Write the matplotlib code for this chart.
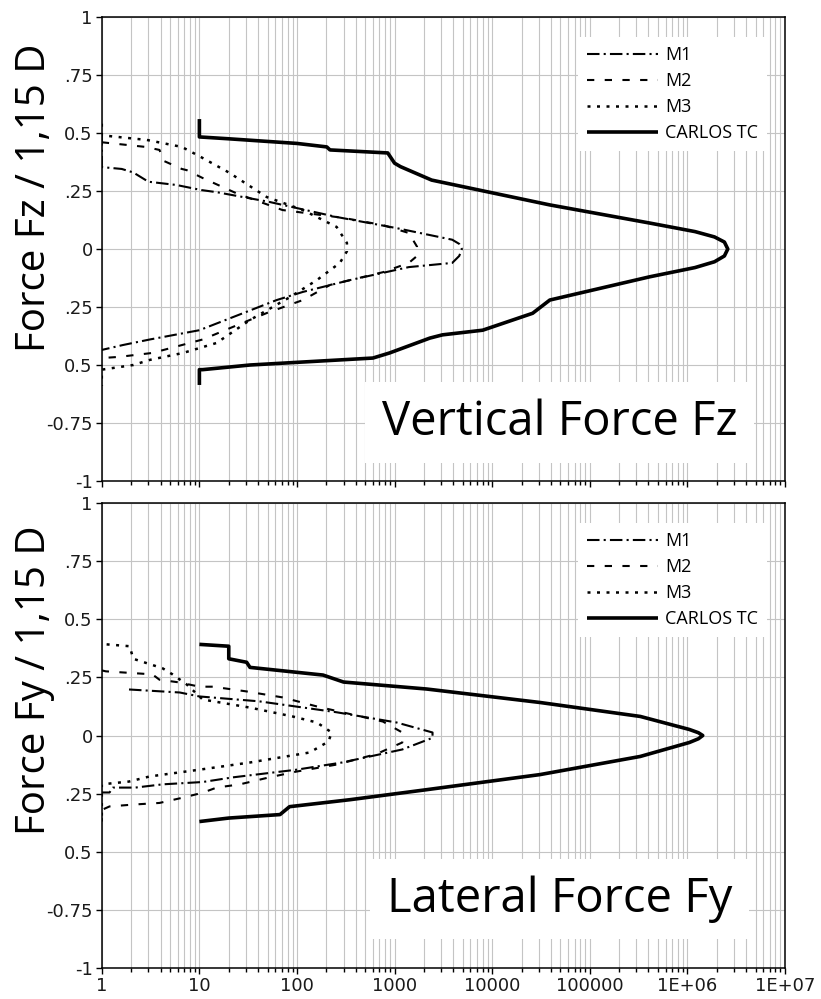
import numpy as np
import matplotlib.pyplot as plt
from matplotlib.ticker import FixedLocator, FixedFormatter, LogLocator, NullFormatter

# ---- vertical force Fz (counts vs force / 1,15 D)
fz_m1_x = [1, 1, 1.6, 2.1, 3.0, 5.8, 10.5, 15, 52, 255, 1050, 3900, 4600, 4900, 4600, 3900, 1400, 350, 115, 62, 10, 3.1, 1.64, 1]
fz_m1_y = [0.50, 0.353, 0.345, 0.33, 0.29, 0.276, 0.254, 0.245, 0.203, 0.138, 0.09, 0.04, 0.022, 0.0,
           -0.03, -0.06, -0.078, -0.134, -0.185, -0.22, -0.35, -0.39, -0.414, -0.435]

fz_m2_x = [1, 2.8, 3.9, 4.3, 6.6, 7.4, 10.8, 24, 71, 300, 760, 1400, 1700, 1700, 1400, 760, 218, 115,
           49, 22, 10.8, 3.3, 1.5, 1]
fz_m2_y = [0.46, 0.44, 0.427, 0.38, 0.345, 0.34, 0.306, 0.24, 0.168, 0.134, 0.103, 0.069, 0.01, -0.03,
           -0.06, -0.10, -0.155, -0.22, -0.276, -0.336, -0.39, -0.448, -0.465, -0.47]

fz_m3_x = [1, 1, 2.9, 6.6, 10, 20, 49, 115, 255, 325, 325, 275, 160, 85, 33, 15, 6.8, 3.1, 2.1, 1, 1]
fz_m3_y = [0.54, 0.49, 0.47, 0.44, 0.40, 0.33, 0.224, 0.168, 0.095, 0.026, -0.01, -0.06, -0.134,
           -0.207, -0.306, -0.405, -0.448, -0.478, -0.50, -0.52, -0.59]

fz_tc_x = [10, 10, 20, 100, 202, 218, 852, 1000, 1150, 2400, 39000, 4.1e5, 1.2e6, 1.9e6, 2.4e6, 2.6e6,
           2.4e6, 1.9e6, 1.2e6, 4.1e5, 39000, 26000, 8000, 3100, 2300, 890, 600, 33, 10.8, 10, 10]
fz_tc_y = [0.56, 0.483, 0.475, 0.455, 0.44, 0.427, 0.414, 0.37, 0.355, 0.297, 0.19, 0.112, 0.075, 0.052,
           0.03, 0.0, -0.03, -0.055, -0.08, -0.12, -0.22, -0.277, -0.35, -0.37, -0.384, -0.448, -0.47,
           -0.50, -0.52, -0.52, -0.586]

# ---- lateral force Fy
fy_m1_x = [1.9, 6.3, 10, 41, 255, 1050, 2450, 2450, 1200, 290, 99, 22, 10.8, 4.2, 2.2, 1.3, 1.2, 1]
fy_m1_y = [0.198, 0.185, 0.168, 0.147, 0.1, 0.056, 0.013, -0.01, -0.06, -0.116, -0.147, -0.18,
           -0.20, -0.21, -0.224, -0.224, -0.245, -0.245]

fy_m2_x = [1, 1.1, 3.3, 3.9, 6.3, 10, 13.7, 30, 71, 160, 760, 1200, 1200, 650, 255, 99, 52, 26, 15,
           10.8, 6.8, 3.9, 2.1, 1.2, 1, 1]
fy_m2_y = [0.28, 0.276, 0.263, 0.24, 0.228, 0.21, 0.21, 0.19, 0.164, 0.125, 0.06, 0.013, -0.03, -0.08,
           -0.125, -0.155, -0.18, -0.21, -0.224, -0.246, -0.267, -0.29, -0.297, -0.305, -0.32, -0.37]

fy_m3_x = [1.12, 1.93, 2.1, 4.2, 5.3, 7.4, 10.8, 33, 90, 160, 227, 210, 135, 33, 10, 3.1, 1.9, 1, 1]
fy_m3_y = [0.392, 0.384, 0.33, 0.289, 0.263, 0.22, 0.155, 0.12, 0.082, 0.056, 0.013, -0.026, -0.073,
           -0.116, -0.147, -0.176, -0.198, -0.21, -0.345]

fy_tc_x = [10, 20, 20, 30.5, 33, 185, 300, 2130, 31000, 3.3e5, 1.05e6, 1.3e6, 1.44e6, 1.3e6, 1.05e6,
           3.3e5, 31000, 2130, 350, 84, 67, 20, 10]
fy_tc_y = [0.392, 0.384, 0.33, 0.315, 0.293, 0.26, 0.23, 0.2, 0.142, 0.082, 0.026, 0.012, 0.0, -0.014,
           -0.03, -0.09, -0.168, -0.233, -0.276, -0.306, -0.34, -0.355, -0.37]

series_names = ['M1', 'M2', 'M3', 'CARLOS TC']
ytick_vals = [-1, -0.75, -0.5, -0.25, 0, 0.25, 0.5, 0.75, 1]
ytick_labels = ['-1', '-0.75', '0.5', '.25', '0', '.25', '0.5', '.75', '1']
xtick_vals = [1, 10, 100, 1000, 10000, 100000, 1e6, 1e7]
xtick_labels = ['1', '10', '100', '1000', '10000', '100000', '1E+06', '1E+07']

FONT = 'Open Sans'
TICKFONT = ['Liberation Sans Narrow', 'DejaVu Sans']
styles = [dict(lw=1.5, dashes=(6, 2, 1, 2)),
          dict(lw=1.5, dashes=(3.5, 5)),
          dict(lw=1.8, dashes=(1.2, 2.6)),
          dict(lw=2.6, solid_capstyle='butt', solid_joinstyle='round')]

fig = plt.figure(figsize=(8.21, 9.99), dpi=100)
ax1 = fig.add_axes([0.124, 0.5185, 0.832, 0.4645])
ax2 = fig.add_axes([0.124, 0.031, 0.832, 0.4655])

panels = [
    (ax1, [(fz_m1_x, fz_m1_y), (fz_m2_x, fz_m2_y), (fz_m3_x, fz_m3_y), (fz_tc_x, fz_tc_y)],
     'Vertical Force Fz', 'Force Fz / 1,15 D', 0.099, 0.802),
    (ax2, [(fy_m1_x, fy_m1_y), (fy_m2_x, fy_m2_y), (fy_m3_x, fy_m3_y), (fy_tc_x, fy_tc_y)],
     'Lateral Force Fy', 'Force Fy / 1,15 D', 0.121, 0.319),
]

for ax, data, title, ylab, ty, ly in panels:
    handles = []
    for (x, y), st, name in zip(data, styles, series_names):
        h, = ax.plot(x, y, color='black', label=name, **st)
        handles.append(h)
    ax.set_xscale('log')
    ax.set_xlim(1, 1e7)
    ax.set_ylim(-1, 1)
    ax.xaxis.set_major_locator(FixedLocator(xtick_vals))
    ax.xaxis.set_minor_locator(LogLocator(base=10, subs=np.arange(2, 10), numticks=20))
    ax.xaxis.set_minor_formatter(NullFormatter())
    ax.yaxis.set_major_locator(FixedLocator(ytick_vals))
    ax.yaxis.set_major_formatter(FixedFormatter(ytick_labels))
    if ax is ax2:
        ax.xaxis.set_major_formatter(FixedFormatter(xtick_labels))
    else:
        ax.xaxis.set_major_formatter(NullFormatter())
    ax.grid(True, which='both', axis='x', color='#c4c4c4', lw=0.8)
    ax.grid(True, which='major', axis='y', color='#c4c4c4', lw=0.8)
    ax.set_axisbelow(True)
    ax.tick_params(axis='both', which='major', direction='out', length=4.5, width=1, pad=2,
                   labelsize=13, colors='black', labelcolor='#1a1a1a')
    ax.tick_params(axis='x', which='minor', direction='out', length=3, width=1)
    for lab in ax.get_xticklabels() + ax.get_yticklabels():
        lab.set_family(TICKFONT)
    for sp in ax.spines.values():
        sp.set_linewidth(1.1)

    leg = ax.legend(handles, series_names, loc='upper right', bbox_to_anchor=(0.974, 0.957),
                    borderaxespad=0, frameon=True, fancybox=False, edgecolor='none',
                    facecolor='white', framealpha=1, handlelength=3.9, handletextpad=0.4,
                    labelspacing=0.45, borderpad=0.5, prop={'family': FONT, 'size': 13})

    ax.text(0.67, ty, title, transform=ax.transAxes, ha='center', va='baseline',
            fontsize=34, family=FONT, color='black',
            bbox=dict(boxstyle='square,pad=0.35', fc='white', ec='none'))

    fig.text(0.0426, ly, ylab, rotation=90, ha='center', va='center',
             fontsize=29, family=FONT)

fig.savefig('out.png', dpi=100)
